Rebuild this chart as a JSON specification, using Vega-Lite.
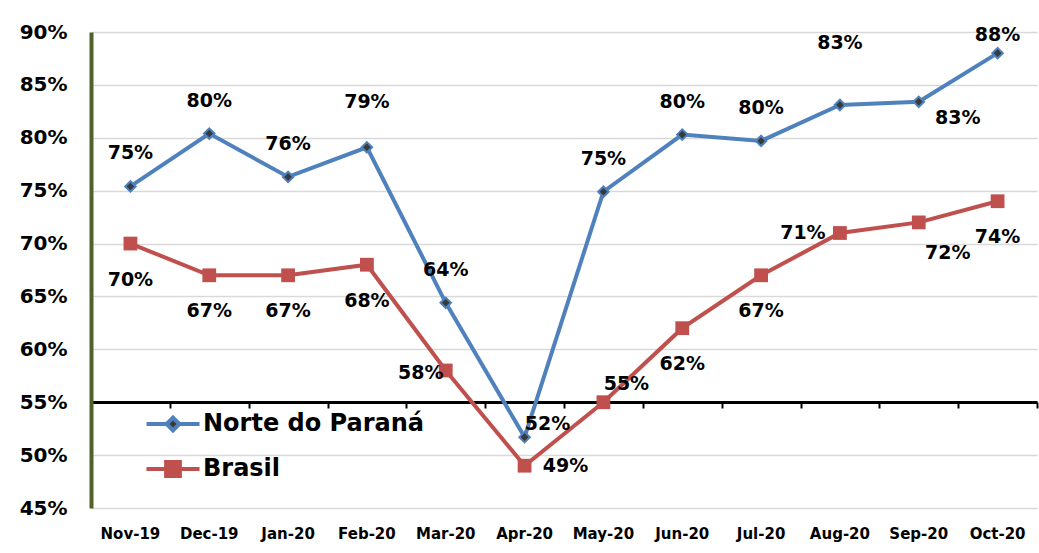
{
  "$schema": "https://vega.github.io/schema/vega-lite/v6.json",
  "width": 946,
  "height": 476,
  "autosize": "none",
  "padding": {"left": 91, "top": 32, "right": 2, "bottom": 45},
  "background": "white",
  "config": {
    "view": {"stroke": null},
    "text": {"font": "DejaVu Sans", "fontWeight": "bold", "fontSize": 19, "color": "black", "baseline": "middle", "align": "center"},
    "axis": {"labelFont": "DejaVu Sans", "labelFontWeight": "bold", "labelColor": "black", "title": null},
    "legend": {"orient": "none", "legendX": 69, "legendY": 379, "title": null, "symbolSize": 450, "symbolStrokeWidth": 4, "symbolOpacity": 1,
               "labelFontSize": 24, "labelFont": "DejaVu Sans", "labelFontWeight": "bold", "labelColor": "black", "labelOffset": 17, "labelLimit": 0, "rowPadding": 15}
  },
  "data": {
    "values": [
      {"month": "Nov-19", "series": "Norte do Paraná", "v": 0.754},
      {"month": "Dec-19", "series": "Norte do Paraná", "v": 0.804},
      {"month": "Jan-20", "series": "Norte do Paraná", "v": 0.763},
      {"month": "Feb-20", "series": "Norte do Paraná", "v": 0.791},
      {"month": "Mar-20", "series": "Norte do Paraná", "v": 0.644},
      {"month": "Apr-20", "series": "Norte do Paraná", "v": 0.517},
      {"month": "May-20", "series": "Norte do Paraná", "v": 0.749},
      {"month": "Jun-20", "series": "Norte do Paraná", "v": 0.803},
      {"month": "Jul-20", "series": "Norte do Paraná", "v": 0.797},
      {"month": "Aug-20", "series": "Norte do Paraná", "v": 0.831},
      {"month": "Sep-20", "series": "Norte do Paraná", "v": 0.834},
      {"month": "Oct-20", "series": "Norte do Paraná", "v": 0.880},
      {"month": "Nov-19", "series": "Brasil", "v": 0.70},
      {"month": "Dec-19", "series": "Brasil", "v": 0.67},
      {"month": "Jan-20", "series": "Brasil", "v": 0.67},
      {"month": "Feb-20", "series": "Brasil", "v": 0.68},
      {"month": "Mar-20", "series": "Brasil", "v": 0.58},
      {"month": "Apr-20", "series": "Brasil", "v": 0.49},
      {"month": "May-20", "series": "Brasil", "v": 0.55},
      {"month": "Jun-20", "series": "Brasil", "v": 0.62},
      {"month": "Jul-20", "series": "Brasil", "v": 0.67},
      {"month": "Aug-20", "series": "Brasil", "v": 0.71},
      {"month": "Sep-20", "series": "Brasil", "v": 0.72},
      {"month": "Oct-20", "series": "Brasil", "v": 0.74}
    ]
  },
  "encoding": {
    "x": {"field": "month", "type": "ordinal", "sort": ["Nov-19","Dec-19","Jan-20","Feb-20","Mar-20","Apr-20","May-20","Jun-20","Jul-20","Aug-20","Sep-20","Oct-20"],
          "scale": {"type": "band", "paddingInner": 0, "paddingOuter": 0}, "axis": null},
    "y": {"field": "v", "type": "quantitative",
          "scale": {"domain": [0.45, 0.9], "nice": false, "zero": false},
          "axis": {"values": [0.45,0.5,0.55,0.6,0.65,0.7,0.75,0.8,0.85,0.9], "format": ".0%", "labelFontSize": 20, "labelPadding": 24, "ticks": false,
                   "domainColor": "#4f6228", "domainWidth": 4, "gridColor": "#d9d9d9", "gridWidth": 1.5}}
  },
  "layer": [
    {
      "mark": {"type": "line", "strokeWidth": 4},
      "encoding": {
        "x": {"field": "month", "type": "ordinal", "sort": ["Nov-19","Dec-19","Jan-20","Feb-20","Mar-20","Apr-20","May-20","Jun-20","Jul-20","Aug-20","Sep-20","Oct-20"],
              "axis": {"orient": "bottom", "labels": false, "offset": -106, "domainColor": "black", "domainWidth": 3, "ticks": true, "tickBand": "extent", "tickColor": "black", "tickWidth": 2, "tickSize": 6, "grid": false}},
        "stroke": {"field": "series", "type": "nominal", "scale": {"domain": ["Norte do Paraná", "Brasil"], "range": ["#4f81bd", "#c0504d"]}}
      }
    },
    {
      "transform": [{"filter": "datum.series == 'Norte do Paraná'"}],
      "mark": {"type": "point", "shape": "diamond", "filled": true, "size": 110, "fill": "#3a3a3a", "stroke": "#4f81bd", "strokeWidth": 2, "opacity": 1},
      "encoding": {
        "x": {"field": "month", "type": "ordinal", "sort": ["Nov-19","Dec-19","Jan-20","Feb-20","Mar-20","Apr-20","May-20","Jun-20","Jul-20","Aug-20","Sep-20","Oct-20"],
              "axis": {"orient": "bottom", "domain": false, "ticks": false, "labelFontSize": 15, "labelPadding": 18, "labelAngle": 0, "grid": false}}
      }
    },
    {
      "transform": [{"filter": "datum.series == 'Brasil'"}],
      "mark": {"type": "point", "shape": "square", "filled": true, "size": 190, "fill": "#c0504d", "opacity": 1}
    },
    {
      "transform": [{"filter": "datum.v < 0"}],
      "mark": {"type": "point", "filled": true},
      "encoding": {
        "shape": {"field": "series", "type": "nominal", "scale": {"domain": ["Norte do Paraná", "Brasil"], "range": ["M-2.5,0H-0.6M0.6,0H2.5M0,-0.6L0.6,0L0,0.6L-0.6,0Z", "M-2.5,0H-0.65M0.65,0H2.5M-0.65,-0.65H0.65V0.65H-0.65Z"]}},
        "fill": {"field": "series", "type": "nominal", "scale": {"domain": ["Norte do Paraná", "Brasil"], "range": ["#3a3a3a", "#c0504d"]}},
        "stroke": {"field": "series", "type": "nominal"}
      }
    },
    {
      "encoding": {"text": {"field": "v", "type": "quantitative", "format": ".0%"}},
      "layer": [
        {"transform": [{"filter": {"and": [{"field": "series", "equal": "Norte do Paraná"}, {"field": "month", "oneOf": ["Nov-19","Dec-19","Jan-20","Mar-20","May-20","Jun-20","Jul-20"]}]}}],
         "mark": {"type": "text", "dy": -33}},
        {"transform": [{"filter": {"and": [{"field": "series", "equal": "Norte do Paraná"}, {"field": "month", "equal": "Feb-20"}]}}],
         "mark": {"type": "text", "dy": -45}},
        {"transform": [{"filter": {"and": [{"field": "series", "equal": "Norte do Paraná"}, {"field": "month", "equal": "Aug-20"}]}}],
         "mark": {"type": "text", "dy": -62}},
        {"transform": [{"filter": {"and": [{"field": "series", "equal": "Norte do Paraná"}, {"field": "month", "equal": "Oct-20"}]}}],
         "mark": {"type": "text", "dy": -18}},
        {"transform": [{"filter": {"and": [{"field": "series", "equal": "Norte do Paraná"}, {"field": "month", "equal": "Apr-20"}]}}],
         "mark": {"type": "text", "dx": 23, "dy": -13}},
        {"transform": [{"filter": {"and": [{"field": "series", "equal": "Norte do Paraná"}, {"field": "month", "equal": "Sep-20"}]}}],
         "mark": {"type": "text", "dx": 39, "dy": 16}},
        {"transform": [{"filter": {"and": [{"field": "series", "equal": "Brasil"}, {"field": "month", "oneOf": ["Nov-19","Dec-19","Jan-20","Feb-20","Jun-20","Jul-20","Oct-20"]}]}}],
         "mark": {"type": "text", "dy": 36}},
        {"transform": [{"filter": {"and": [{"field": "series", "equal": "Brasil"}, {"field": "month", "equal": "Mar-20"}]}}],
         "mark": {"type": "text", "dx": -25, "dy": 3}},
        {"transform": [{"filter": {"and": [{"field": "series", "equal": "Brasil"}, {"field": "month", "equal": "Apr-20"}]}}],
         "mark": {"type": "text", "dx": 41, "dy": 0}},
        {"transform": [{"filter": {"and": [{"field": "series", "equal": "Brasil"}, {"field": "month", "equal": "May-20"}]}}],
         "mark": {"type": "text", "dx": 23, "dy": -18}},
        {"transform": [{"filter": {"and": [{"field": "series", "equal": "Brasil"}, {"field": "month", "equal": "Aug-20"}]}}],
         "mark": {"type": "text", "dx": -37, "dy": 0}},
        {"transform": [{"filter": {"and": [{"field": "series", "equal": "Brasil"}, {"field": "month", "equal": "Sep-20"}]}}],
         "mark": {"type": "text", "dx": 29, "dy": 31}}
      ]
    }
  ],
  "resolve": {"axis": {"x": "independent"}}
}
